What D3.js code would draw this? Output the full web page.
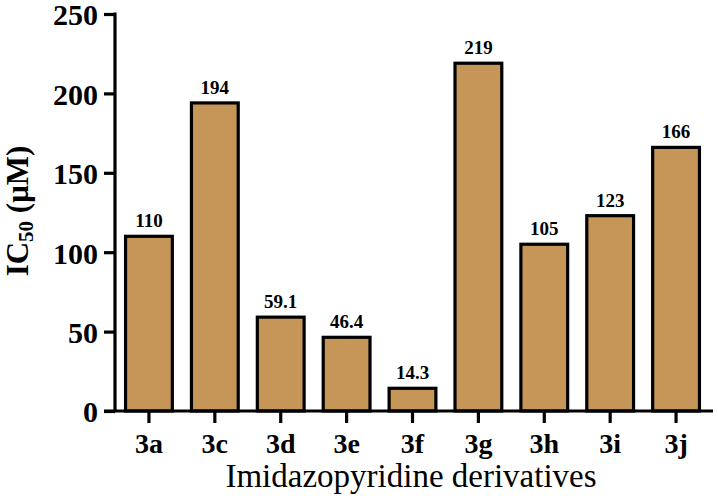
<!DOCTYPE html>
<html><head><meta charset="utf-8">
<script src="https://cdn.jsdelivr.net/npm/d3@7"></script>
<style>body{margin:0;background:#fff}svg{display:block}</style>
</head><body>
<svg id="c" width="718" height="500"></svg>
<script>
const categories = ["3a","3c","3d","3e","3f","3g","3h","3i","3j"];
const values = [110, 194, 59.1, 46.4, 14.3, 219, 105, 123, 166];
const valueLabels = ["110","194","59.1","46.4","14.3","219","105","123","166"];
const yTicks = [0, 50, 100, 150, 200, 250];

const svg = d3.select("#c");
const font = "'Liberation Serif','Times New Roman',serif";
const x = d3.scaleBand().domain(categories).range([116, 709]).paddingInner(0.29).paddingOuter(0.145);
const y = d3.scaleLinear().domain([0, 250]).range([411, 14]);

// bars
svg.append("g").selectAll("rect").data(values).join("rect")
  .attr("x", (d,i) => x(categories[i]))
  .attr("width", x.bandwidth())
  .attr("y", d => y(d))
  .attr("height", d => y(0) - y(d))
  .attr("fill", "#C59657")
  .attr("stroke", "#000")
  .attr("stroke-width", 3.2);

// value labels
svg.append("g").selectAll("text").data(values).join("text")
  .attr("x", (d,i) => x(categories[i]) + x.bandwidth()/2)
  .attr("y", d => y(d) - 9)
  .attr("text-anchor", "middle")
  .attr("font-family", font).attr("font-weight", "bold").attr("font-size", 19)
  .attr("fill", "#000")
  .text((d,i) => valueLabels[i]);

// y axis
const yAxis = svg.append("g").attr("transform", "translate(115,0)")
  .call(d3.axisLeft(y).tickValues(yTicks).tickSize(11).tickPadding(6).tickSizeOuter(0));
yAxis.select(".domain").attr("stroke-width", 3.2).attr("d", `M0,${y(250)-1.5}V${y(0)}`);
yAxis.selectAll(".tick line").attr("stroke-width", 3.2);
yAxis.selectAll(".tick text").attr("font-family", font).attr("font-weight", "bold")
  .attr("font-size", 30).attr("fill", "#000").attr("dy", "0.36em");

// x axis
const xAxis = svg.append("g").attr("transform", `translate(0,${y(0)})`)
  .call(d3.axisBottom(x).tickSize(12).tickPadding(10).tickSizeOuter(0));
xAxis.select(".domain").attr("stroke-width", 3.2).attr("d", "M104,0H713");
xAxis.selectAll(".tick line").attr("stroke-width", 3.2);
xAxis.selectAll(".tick text").attr("font-family", font).attr("font-weight", "bold")
  .attr("font-size", 28).attr("fill", "#000");

// x title
svg.append("text").attr("x", 411).attr("y", 487).attr("text-anchor", "middle")
  .attr("font-family", font).attr("font-size", 33).attr("fill", "#000")
  .text("Imidazopyridine derivatives");

// y title
const yt = svg.append("text").attr("transform", "translate(28,211) rotate(-90)")
  .attr("text-anchor", "middle")
  .attr("font-family", font).attr("font-weight", "bold").attr("font-size", 31).attr("fill", "#000");
yt.append("tspan").text("IC");
yt.append("tspan").attr("font-size", 21).attr("dy", 5).text("50");
yt.append("tspan").attr("dy", -5).text(" (μM)");
</script>
</body></html>
